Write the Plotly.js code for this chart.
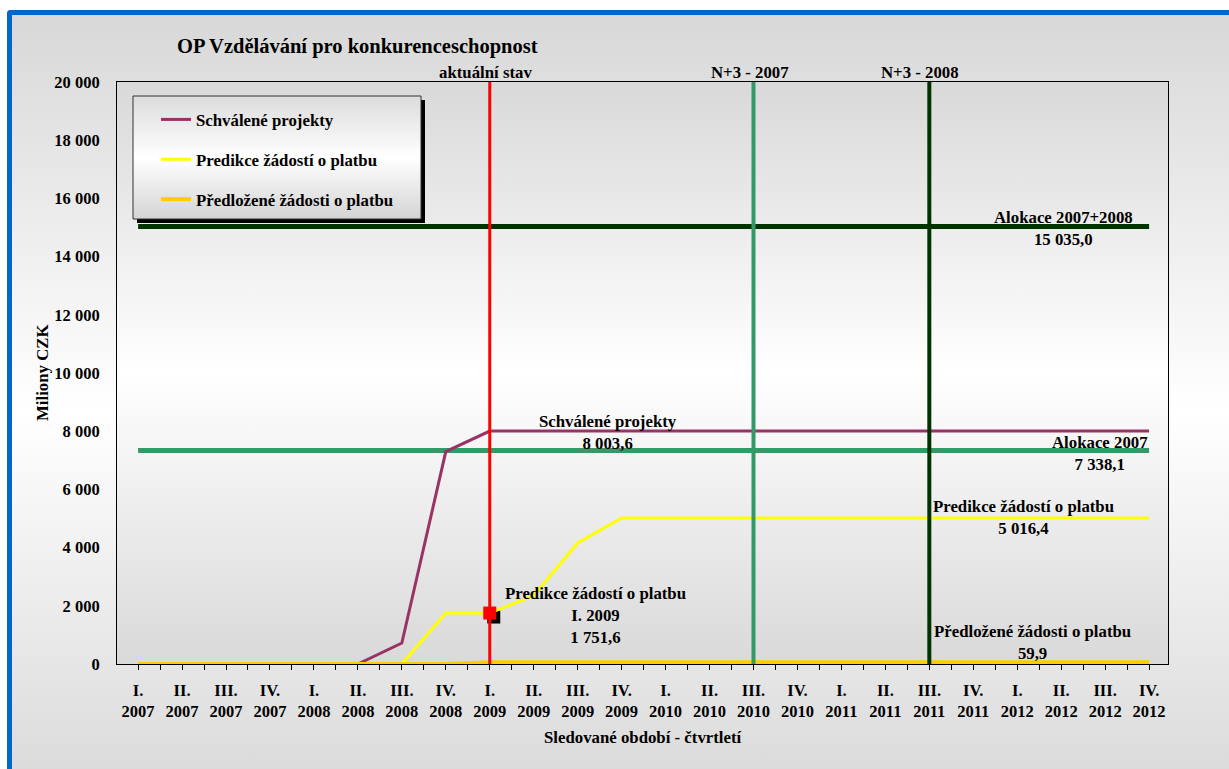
<!DOCTYPE html>
<html>
<head>
<meta charset="utf-8">
<script src="https://cdn.plot.ly/plotly-3.0.1.min.js"></script>
<style>
  html, body { margin: 0; padding: 0; background: #ffffff; width: 1229px; height: 769px; overflow: hidden; }
  #frame { position: absolute; left: 7px; top: 10px; width: 1240px; height: 790px;
    border-top: 5px solid #0066cc; border-left: 5px solid #0066cc; border-top-left-radius: 4px;
    background: linear-gradient(to bottom, #d8d8d8 0%, #ffffff 50%, #d8d8d8 100%); }
  #chart { position: absolute; left: 0; top: 0; width: 1229px; height: 769px; }
</style>
</head>
<body>
<div id="frame"></div>
<div id="chart"></div>
<script>
// ---- data ----
const categories = [
  'I. 2007','II. 2007','III. 2007','IV. 2007',
  'I. 2008','II. 2008','III. 2008','IV. 2008',
  'I. 2009','II. 2009','III. 2009','IV. 2009',
  'I. 2010','II. 2010','III. 2010','IV. 2010',
  'I. 2011','II. 2011','III. 2011','IV. 2011',
  'I. 2012','II. 2012','III. 2012','IV. 2012'
];
const schvaleneProjekty = [0,0,0,0,0,0,720,7300,8003.6,8003.6,8003.6,8003.6,8003.6,8003.6,8003.6,8003.6,8003.6,8003.6,8003.6,8003.6,8003.6,8003.6,8003.6,8003.6];
const predikceZadosti = [0,0,0,0,0,0,0,1750,1751.6,2350,4160,5016.4,5016.4,5016.4,5016.4,5016.4,5016.4,5016.4,5016.4,5016.4,5016.4,5016.4,5016.4,5016.4];
const predlozeneZadosti = [0,0,0,0,0,0,0,0,59.9,59.9,59.9,59.9,59.9,59.9,59.9,59.9,59.9,59.9,59.9,59.9,59.9,59.9,59.9,59.9];
const alokace2007 = 7338.1;
const alokace20072008 = 15035.0;
const aktualniStav = 'I. 2009';
const n3_2007 = 'III. 2010';
const n3_2008 = 'III. 2011';
const yTicks = [0,2000,4000,6000,8000,10000,12000,14000,16000,18000,20000];

// ---- helpers ----
const xs = categories.map((c, i) => i);
const tickText = categories.map(c => c.replace(' ', '<br>'));
const PL = 117, PR = 1168, PT = 82, PB = 664;
const px2x = p => (p - PL) / (PR - PL);
const px2y = p => (PB - p) / (PB - PT);
const FONT = 'Liberation Serif, Times New Roman, serif';
const bold = (size) => ({ family: FONT, size: size, color: '#000000', weight: 'bold' });
const gradSvg = (top, mid, bot) => 'data:image/svg+xml,' + encodeURIComponent(
  '<svg xmlns="http://www.w3.org/2000/svg" width="100" height="100" viewBox="0 0 100 100" preserveAspectRatio="none">' +
  '<defs><linearGradient id="g" x1="0" y1="0" x2="0" y2="1">' +
  '<stop offset="0" stop-color="' + top + '"/><stop offset="0.5" stop-color="' + mid + '"/><stop offset="1" stop-color="' + bot + '"/>' +
  '</linearGradient></defs><rect x="0" y="0" width="100" height="100" fill="url(#g)"/></svg>');

const iAkt = categories.indexOf(aktualniStav);
const i07 = categories.indexOf(n3_2007);
const i08 = categories.indexOf(n3_2008);

const traces = [
  { x: xs, y: xs.map(() => alokace20072008), type: 'scatter', mode: 'lines', showlegend: false,
    line: { color: '#003300', width: 5 }, hoverinfo: 'skip' },
  { x: xs, y: xs.map(() => alokace2007), type: 'scatter', mode: 'lines', showlegend: false,
    line: { color: '#339966', width: 5 }, hoverinfo: 'skip' },
  { x: xs, y: schvaleneProjekty, name: 'Schválené projekty', type: 'scatter', mode: 'lines',
    legendgroup: 'a', line: { color: '#993366', width: 3 } },
  { x: xs, y: predikceZadosti, name: 'Predikce žádostí o platbu', type: 'scatter', mode: 'lines',
    legendgroup: 'b', line: { color: '#ffff00', width: 3 } },
  { x: xs, y: predlozeneZadosti, name: 'Předložené žádosti o platbu', type: 'scatter', mode: 'lines',
    legendgroup: 'c', line: { color: '#ffcc00', width: 4 } },
  { x: [xs[iAkt]], y: [predikceZadosti[iAkt]], type: 'scatter', mode: 'markers', showlegend: false,
    marker: { symbol: 'square', size: 13, color: '#ff0000' } }
];

const LB = { l: 133, r: 421, t: 96, b: 219 };

const layout = {
  width: 1229, height: 769,
  margin: { l: PL, r: 1229 - PR, t: PT, b: 769 - PB, pad: 0 },
  paper_bgcolor: 'rgba(0,0,0,0)',
  plot_bgcolor: 'rgba(0,0,0,0)',
  separators: ', ',
  showlegend: true,
  title: { text: 'OP Vzdělávání pro konkurenceschopnost', font: bold(20.5),
    xref: 'container', yref: 'container', x: 177 / 1229, xanchor: 'left', y: 1 - 46 / 769, yanchor: 'middle' },
  xaxis: {
    range: [-0.48, 23.43], tickmode: 'array', tickvals: xs, ticktext: tickText,
    ticks: 'outside', ticklen: 5, tickcolor: '#000000', tickwidth: 1,
    minor: { tickmode: 'linear', tick0: 0.5, dtick: 1, ticks: 'outside', ticklen: 5, tickcolor: '#000000', tickwidth: 1, showgrid: false },
    showline: true, linecolor: '#000000', linewidth: 1, mirror: true,
    showgrid: false, zeroline: false, tickfont: bold(16.5), ticklabelstandoff: 6
  },
  yaxis: {
    range: [0, 20000], tickmode: 'array', tickvals: yTicks, tickformat: ',',
    ticks: '', showline: true, linecolor: '#000000', linewidth: 1, mirror: true,
    showgrid: false, zeroline: false, tickfont: bold(16.5), ticklabelstandoff: 13
  },
  legend: {
    x: px2x(156), y: px2y(102), xanchor: 'left', yanchor: 'top',
    bgcolor: 'rgba(0,0,0,0)', borderwidth: 0, font: bold(16.8),
    traceorder: 'grouped', tracegroupgap: 15
  },
  images: [
    { source: gradSvg('#d9d9d9', '#ffffff', '#d9d9d9'), xref: 'paper', yref: 'paper', x: 0, y: 1, sizex: 1, sizey: 1,
      xanchor: 'left', yanchor: 'top', sizing: 'stretch', layer: 'below' },
    { source: gradSvg('#dcdcdc', '#ffffff', '#d4d4d4'), xref: 'paper', yref: 'paper',
      x: px2x(LB.l), y: px2y(LB.t), sizex: px2x(LB.r) - px2x(LB.l), sizey: px2y(LB.t) - px2y(LB.b),
      xanchor: 'left', yanchor: 'top', sizing: 'stretch', layer: 'above' }
  ],
  shapes: [
    // legend shadow and border
    { type: 'rect', xref: 'paper', yref: 'paper', x0: px2x(LB.l + 4), x1: px2x(LB.r + 4), y0: px2y(LB.b + 4), y1: px2y(LB.t + 4),
      fillcolor: '#000000', line: { width: 0 }, layer: 'below' },
    { type: 'rect', xref: 'paper', yref: 'paper', x0: px2x(LB.l), x1: px2x(LB.r), y0: px2y(LB.b), y1: px2y(LB.t),
      fillcolor: 'rgba(0,0,0,0)', line: { color: '#333333', width: 1 }, layer: 'above' },
    // marker shadow
    { type: 'rect', xref: 'x', yref: 'y', xsizemode: 'pixel', ysizemode: 'pixel',
      xanchor: xs[iAkt], yanchor: predikceZadosti[iAkt], x0: -2.5, x1: 10.5, y0: -10.5, y1: 2.5,
      fillcolor: '#000000', line: { width: 0 }, layer: 'below' },
    // vertical milestone lines
    { type: 'line', xref: 'x', yref: 'paper', x0: xs[iAkt], x1: xs[iAkt], y0: 0, y1: 1,
      line: { color: '#ff0000', width: 3 }, layer: 'above' },
    { type: 'line', xref: 'x', yref: 'paper', x0: xs[i07], x1: xs[i07], y0: 0, y1: 1,
      line: { color: '#339966', width: 4 }, layer: 'above' },
    { type: 'line', xref: 'x', yref: 'paper', x0: xs[i08], x1: xs[i08], y0: 0, y1: 1,
      line: { color: '#003300', width: 4 }, layer: 'above' }
  ],
  annotations: [
    { text: 'aktuální stav', x: px2x(485), y: px2y(72) },
    { text: 'N+3 - 2007', x: px2x(750), y: px2y(72) },
    { text: 'N+3 - 2008', x: px2x(920), y: px2y(72) },
    { text: 'Schválené projekty<br>8 003,6', x: px2x(608), y: px2y(432.5) },
    { text: 'Predikce žádostí o platbu<br>I. 2009<br>1 751,6', x: px2x(595), y: px2y(615) },
    { text: 'Alokace 2007+2008<br>15 035,0', x: px2x(1063), y: px2y(228.5) },
    { text: 'Alokace 2007<br>7 338,1', x: px2x(1100), y: px2y(453) },
    { text: 'Predikce žádostí o platbu<br>5 016,4', x: px2x(1023), y: px2y(517.5) },
    { text: 'Předložené žádosti o platbu<br>59,9', x: px2x(1032), y: px2y(642.5) },
    { text: 'Miliony CZK', x: px2x(42), y: px2y(373), textangle: -90 },
    { text: 'Sledované období - čtvrtletí', x: px2x(643), y: px2y(737) }
  ].map(a => Object.assign({ xref: 'paper', yref: 'paper', showarrow: false, xanchor: 'center', yanchor: 'middle',
    font: bold(16.8), align: 'center' }, a))
};

Plotly.newPlot('chart', traces, layout, { displayModeBar: false, staticPlot: true });
</script>
</body>
</html>
